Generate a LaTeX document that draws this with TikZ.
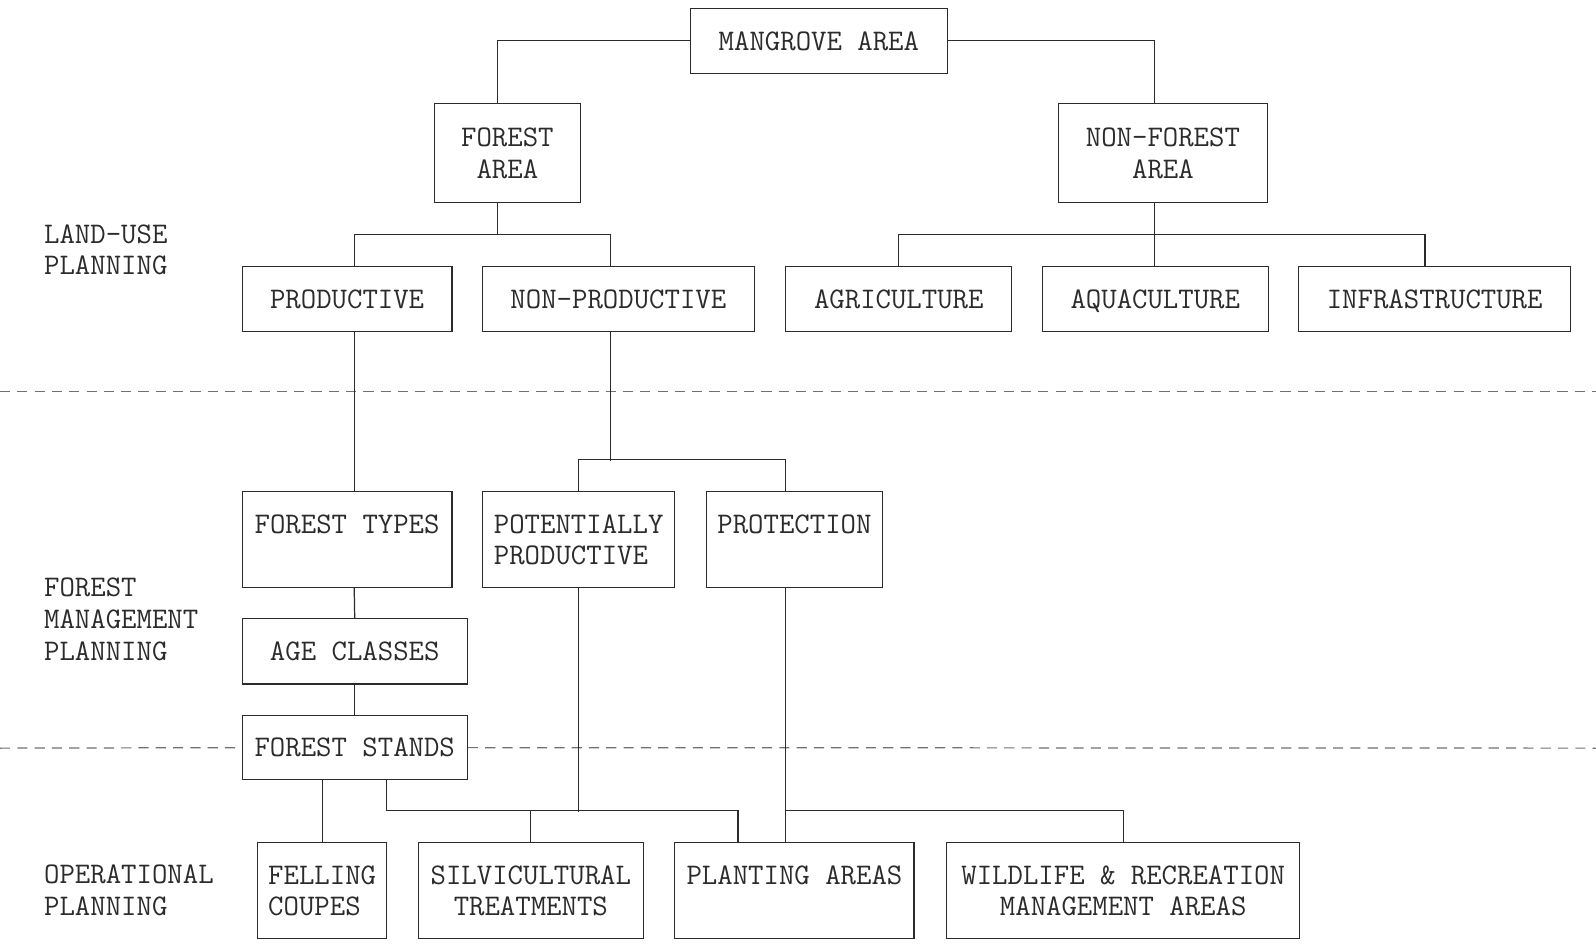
\documentclass[tikz,border=0pt]{standalone}
\usepackage{fontspec}
\definecolor{inkgray}{HTML}{2b2b2b}
\definecolor{dashgray}{HTML}{707070}
\tikzset{
	box/.style={draw=inkgray, line width=0.6pt, inner sep=0pt, align=center, text depth=0pt,
		text=inkgray, font=\ttfamily\fontsize{14.7pt}{15.5pt}\selectfont},
	lbl/.style={anchor=west, align=left, inner sep=0pt,
		text=inkgray, font=\ttfamily\fontsize{14.7pt}{15.5pt}\selectfont},
	link/.style={draw=inkgray, line width=0.6pt},
	sep/.style={draw=dashgray, line width=0.6pt, dash pattern=on 5pt off 3.5pt}
}
\begin{document}
\begin{tikzpicture}[x=0.5pt, y=-0.5pt]
				\useasboundingbox (0,0) rectangle (1568,928);

				\node[box, minimum width=126.5pt, minimum height=32pt] (mangrove) at (804.5,40) {MANGROVE AREA};
				\node[box, minimum width=71.5pt, minimum height=48.5pt] (forest) at (498.5,150.5) {FOREST\\AREA};
				\node[box, minimum width=102.5pt, minimum height=48.5pt] (nonforest) at (1142.5,150.5) {NON-FOREST\\AREA};

				\node[box, minimum width=103pt, minimum height=32pt] (productive) at (341,294) {PRODUCTIVE};
				\node[box, minimum width=133.5pt, minimum height=32pt] (nonprod) at (607.5,294) {NON-PRODUCTIVE};
				\node[box, minimum width=111pt, minimum height=32pt] (agri) at (883,294) {AGRICULTURE};
				\node[box, minimum width=111pt, minimum height=32pt] (aqua) at (1135,294) {AQUACULTURE};
				\node[box, minimum width=133.5pt, minimum height=32pt] (infra) at (1409.5,294) {INFRASTRUCTURE};

				\node[box, minimum width=103pt, minimum height=47pt] (ftypes) at (341,530) {FOREST TYPES\\\mbox{}};
				\node[box, align=left, minimum width=94.5pt, minimum height=47pt] (potprod) at (568.5,530) {POTENTIALLY\\PRODUCTIVE};
				\node[box, minimum width=86.5pt, minimum height=47pt] (protect) at (780.5,530) {PROTECTION\\\mbox{}};
				\node[box, minimum width=110.5pt, minimum height=32pt] (ageclass) at (348.5,640) {AGE CLASSES};
				\node[box, minimum width=110.5pt, minimum height=31.5pt] (stands) at (348.5,734.5) {FOREST STANDS};

				\node[box, align=left, minimum width=63.5pt, minimum height=47pt] (felling) at (316.5,875) {FELLING\\COUPES};
				\node[box, minimum width=110.5pt, minimum height=47pt] (silvi) at (521.5,875) {SILVICULTURAL\\TREATMENTS};
				\node[box, minimum width=117.5pt, minimum height=47pt] (planting) at (780.5,875) {PLANTING AREAS\\\mbox{}};
				\node[box, minimum width=173.5pt, minimum height=47pt] (wildlife) at (1103.5,875) {WILDLIFE \& RECREATION\\MANAGEMENT AREAS};

				\node[lbl] (landuse) at (43,245.5) {LAND-USE\\PLANNING};
				\node[lbl] (management) at (43,608.5) {FOREST\\MANAGEMENT\\PLANNING};
				\node[lbl] (operational) at (43,874.5) {OPERATIONAL\\PLANNING};

				\draw[sep] (0,385) -- (1568,385);
				\draw[sep] (0,735) -- (stands.west);
				\draw[sep] (stands.east) -- (1568,735);

				\draw[link] (mangrove.west) -| ([xshift=-4.75pt]forest.north);
				\draw[link] (mangrove.east) -| ([xshift=-4.25pt]nonforest.north);

				\draw[link] ([xshift=-4.75pt]forest.south) -- ++(0,31);
				\draw[link] ([xshift=3.5pt]productive.north) |- ([xshift=-4.75pt, yshift=-15.5pt]forest.south) -| ([xshift=-3.75pt]nonprod.north);

				\draw[link] ([xshift=-4.25pt]nonforest.south) -- ([xshift=-0.5pt]aqua.north);
				\draw[link] (agri.north) |- ([xshift=-4.25pt, yshift=-15.5pt]nonforest.south) -| ([xshift=-4.75pt]infra.north);

				\draw[link] ([xshift=3.5pt]productive.south) -- ([xshift=3.5pt]ftypes.north);
				\draw[link] ([xshift=-3.75pt]nonprod.south) -- ++(0,126);
				\draw[link] (potprod.north) -- ++(0,-31) -| ([xshift=-4.25pt]protect.north);

				\draw[link] ([xshift=3.5pt]ftypes.south) -- (ageclass.north);
				\draw[link] (ageclass.south) -- (stands.north);

				\draw[link] (felling.north) -- (felling.north |- stands.south);
				\draw[link] ([xshift=15.75pt]stands.south) |- ([xshift=-27.75pt, yshift=15.5pt]planting.north) -- ([xshift=-27.75pt]planting.north);
				\draw[link] (silvi.north) -- ++(0,-31);
				\draw[link] (potprod.south) -- ++(0,220);

				\draw[link] ([xshift=-4.25pt]protect.south) -- ([xshift=-4.25pt]planting.north);
				\draw[link] (wildlife.north) -- ++(0,-31) -| ([xshift=-4.25pt]planting.north);
			\end{tikzpicture}
\end{document}
